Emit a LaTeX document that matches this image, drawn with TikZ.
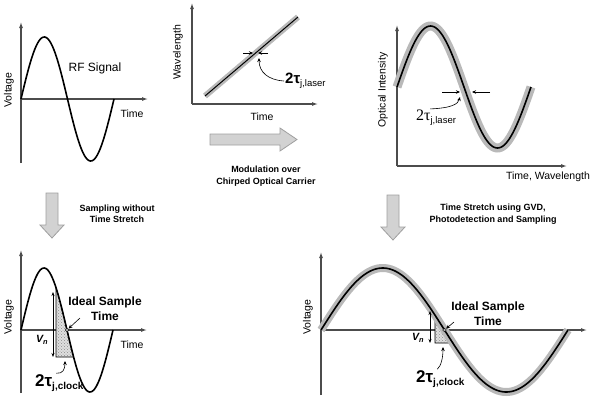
\documentclass[tikz,border=0pt]{standalone}
\usepackage{fontspec}
\setmainfont{Liberation Sans}
\newfontfamily\timesfont{Liberation Serif}
\usetikzlibrary{arrows.meta, patterns}
\newcommand{\jsub}[1]{\raisebox{-0.6ex}{#1}}

\begin{document}
\begin{tikzpicture}[x=1pt, y=-1pt,
  axis/.style={black!70, line width=1.1pt, -{Latex[length=6pt,width=4pt]}},
  signal/.style={black, line width=1.6pt},
  band/.style={gray!55, line width=8pt},
  bigarrow/.style={draw=gray!75, fill=gray!35, line width=0.8pt},
  axlabel/.style={font=\fontsize{10.5}{12}\selectfont},
  caption/.style={font=\fontsize{9}{11.5}\selectfont\bfseries, align=center},
  ideal/.style={font=\fontsize{12}{15}\selectfont\bfseries, align=center},
  pointer/.style={-{Stealth[length=4pt,width=3.5pt]}, line width=0.6pt},
  vn/.style={{Stealth[length=4pt,width=3pt]}-{Stealth[length=4pt,width=3pt]}, line width=0.6pt},
  jitter/.style={pattern=crosshatch dots, pattern color=gray!90, preaction={fill=gray!25}, draw=black, line width=0.6pt},
  dot/.style={circle, draw, fill=gray!60, inner sep=1.3pt},
]
  \useasboundingbox (0,0) rectangle (595,405);

  % RF signal
  \draw[axis] (21,163) -- (21,22);
  \draw[axis] (21,99) -- (148,99);
  \draw[signal] plot[domain=21:114, samples=80, smooth] (\x, {99-62*sin((\x-21)/93*360)});
  \node[axlabel, rotate=90] (volt1) at (9,90) {Voltage};
  \node[axlabel] (time1) at (132,114) {Time};
  \node[font=\fontsize{12}{14}\selectfont] (rf) at (95,68) {RF Signal};

  % chirped carrier
  \draw[axis] (192,104) -- (192,3);
  \draw[axis] (192,104) -- (318,104);
  \draw[band, line width=6pt] (205,96) -- (298,17);
  \draw[line width=1pt] (205,96) -- (298,17);
  \draw[pointer] (243,53) -- (253,53);
  \draw[pointer] (268,53) -- (258,53);
  \node[axlabel, rotate=90] (wave2) at (178,52) {Wavelength};
  \node[axlabel] (time2) at (262,117) {Time};
  \node[anchor=west, inner sep=1pt] (taulaser) at (284,81) {{\fontsize{15}{15}\selectfont\bfseries 2τ}\jsub{\fontsize{9.5}{10}\selectfont j,laser}};
  \coordinate (laserpt) at (259,58);
  \draw[pointer] (taulaser.west) .. controls (268,80) and (259,72) .. (laserpt);

  \draw[bigarrow] (210,134) -- (280,134) -- (280,128) -- (297,139.5) -- (280,151) -- (280,145) -- (210,145) -- cycle;
  \node[caption] (modcap) at (266,176) {Modulation over\\Chirped Optical Carrier};

  % modulated carrier
  \draw[axis] (397,166) -- (397,25);
  \draw[axis] (397,166) -- (567,166);
  \draw[band, line width=9pt] plot[domain=397:531, samples=100, smooth] (\x, {87-61*sin((\x-397)/134*360)});
  \draw[signal] plot[domain=397:531, samples=100, smooth] (\x, {87-61*sin((\x-397)/134*360)});
  \draw[pointer] (442,92) -- (460,92);
  \draw[pointer] (490,92) -- (472,92);
  \node[axlabel, rotate=90] (optint) at (383,90) {Optical Intensity};
  \node[axlabel] (timewl) at (548,177) {Time, Wavelength};
  \node[anchor=west, inner sep=1pt] (tauopt) at (415,118) {{\timesfont\fontsize{16}{16}\selectfont 2τ}\jsub{\fontsize{9.5}{10}\selectfont j,laser}};
  \coordinate (optpt) at (460,97);
  \draw[pointer] ([xshift=-6pt]tauopt.north) .. controls (452,108) and (458,104) .. (optpt);

  % sampling without time stretch
  \draw[bigarrow] (46,193) -- (58,193) -- (58,225) -- (64,225) -- (52,238) -- (40,225) -- (46,225) -- cycle;
  \node[caption] (samp1) at (117,214) {Sampling without\\Time Stretch};

  \draw[axis] (21,393) -- (21,250);
  \draw[axis] (21,330) -- (147,330);
  \draw[jitter] plot[domain=56:73.6, samples=20, smooth] (\x, {330-62*sin((\x-21)/92*360)}) -- (73.6,357) -- (56,357) -- cycle;
  \draw[signal] plot[domain=21:113, samples=80, smooth] (\x, {330-62*sin((\x-21)/92*360)});
  \draw[vn] (53,292) -- (53,357);
  \node[dot] (ideal4) at (67,330) {};
  \node[axlabel, rotate=90] (volt4) at (9,317) {Voltage};
  \node[axlabel] (time4) at (132,345) {Time};
  \node[ideal] (idlbl4) at (105,309) {Ideal Sample\\Time};
  \coordinate (idtail4) at (80,318);
  \draw[pointer] (idtail4) -- (ideal4);
  \node[font=\fontsize{10.5}{12}\selectfont\bfseries\itshape] (vn4) at (42,340) {V\textsubscript{n}};
  \node[anchor=west, inner sep=1pt] (tauclk4) at (34,383) {{\fontsize{17}{17}\selectfont\bfseries 2τ}\jsub{\fontsize{10}{10}\selectfont\bfseries j,clock}};
  \coordinate (clkpt4) at (65,361);
  \draw[pointer] ([xshift=-3pt]tauclk4.north) .. controls (63,374) and (65,369) .. (clkpt4);

  % time stretch
  \draw[bigarrow] (387,195) -- (399,195) -- (399,227) -- (405,227) -- (393,240) -- (381,227) -- (387,227) -- cycle;
  \node[caption] (samp2) at (493,214) {Time Stretch using GVD,\\Photodetection and Sampling};

  \draw[axis] (321,395) -- (321,252);
  \draw[axis] (321,330) -- (587,330);
  \draw[jitter] plot[domain=435:452.8, samples=20, smooth] (\x, {330-62*sin((\x-321)/247*360)}) -- (452.8,343) -- (435,343) -- cycle;
  \draw[band] plot[domain=321:568, samples=150, smooth] (\x, {330-62*sin((\x-321)/247*360)});
  \draw[signal] plot[domain=321:568, samples=150, smooth] (\x, {330-62*sin((\x-321)/247*360)});
  \draw[vn] (430,311) -- (430,343);
  \node[dot] (ideal5) at (444.5,330) {};
  \node[axlabel, rotate=90] (volt5) at (308,317) {Voltage};
  \node[ideal] (idlbl5) at (488,314) {Ideal Sample\\Time};
  \coordinate (idtail5) at (454,322);
  \draw[pointer] (idtail5) -- (ideal5);
  \node[font=\fontsize{10.5}{12}\selectfont\bfseries\itshape] (vn5) at (418,338) {V\textsubscript{n}};
  \node[anchor=west, inner sep=1pt] (tauclk5) at (415,379) {{\fontsize{17}{17}\selectfont\bfseries 2τ}\jsub{\fontsize{10}{10}\selectfont\bfseries j,clock}};
  \coordinate (clkpt5) at (443,347);
  \draw[pointer] ([xshift=-3pt]tauclk5.north) .. controls (441,366) and (443,358) .. (clkpt5);
\end{tikzpicture}
\end{document}
